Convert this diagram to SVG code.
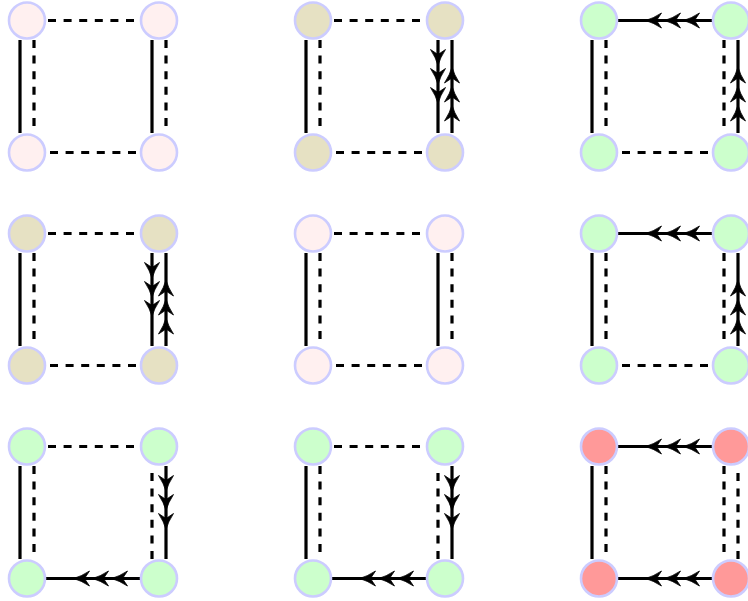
<svg xmlns="http://www.w3.org/2000/svg" xmlns:xlink="http://www.w3.org/1999/xlink" width="748" height="601" viewBox="0 0 748 601">
<style>
.s{stroke:#000;stroke-width:3.2;fill:none}
.d{stroke:#000;stroke-width:3.2;fill:none;stroke-dasharray:8 7.6}
.n{stroke:#ccccff;stroke-width:2.6}
.pk{fill:#fff0f0}
.kh{fill:#e6e1c3}
.gr{fill:#ccffcc}
.rd{fill:#ff9999}
</style>
<defs>
<path id="chev" d="M1.5 0 Q-6 -2 -14.5 -7.5 L-9.5 0 L-14.5 7.5 Q-6 2 1.5 0Z" fill="#000" stroke="#000" stroke-width="0.8" stroke-linejoin="miter"/>
<g id="a3">
<use xlink:href="#chev" href="#chev" transform="translate(18,0)"/>
<use xlink:href="#chev" href="#chev" transform="translate(-1,0)"/>
<use xlink:href="#chev" href="#chev" transform="translate(-20,0)"/>
</g>
</defs>
<rect width="748" height="601" fill="#fff"/>
<g id="connectors">
<!-- panel 1 -->
<path class="d" d="M48 20.5H140"/><path class="d" d="M50 152.5H140"/>
<path class="s" d="M20 40V133"/><path class="d" d="M34 40V133"/>
<path class="s" d="M152 40V133"/><path class="d" d="M166 40V133"/>
<!-- panel 2 -->
<path class="d" d="M334 20.5H426"/><path class="d" d="M336 152.5H426"/>
<path class="s" d="M306 40V133"/><path class="d" d="M320 40V133"/>
<path class="s" d="M438 40V133"/><use href="#a3" xlink:href="#a3" transform="translate(438,84) rotate(90)"/>
<path class="s" d="M452 40V133"/><use href="#a3" xlink:href="#a3" transform="translate(452,86.5) rotate(-90)"/>
<!-- panel 3 -->
<path class="s" d="M618 20.5H712"/><use href="#a3" xlink:href="#a3" transform="translate(665,20.5) rotate(180)"/>
<path class="d" d="M622 152.5H712"/>
<path class="s" d="M592 40V133"/><path class="d" d="M606 40V133"/>
<path class="d" d="M724 40V133"/>
<path class="s" d="M738 40V133"/><use href="#a3" xlink:href="#a3" transform="translate(738,86.5) rotate(-90)"/>
<!-- panel 4 -->
<path class="d" d="M48 233.5H140"/><path class="d" d="M50 365.5H140"/>
<path class="s" d="M20 253V346"/><path class="d" d="M34 253V346"/>
<path class="s" d="M152 253V346"/><use href="#a3" xlink:href="#a3" transform="translate(152,297) rotate(90)"/>
<path class="s" d="M166 253V346"/><use href="#a3" xlink:href="#a3" transform="translate(166,299.5) rotate(-90)"/>
<!-- panel 5 -->
<path class="d" d="M334 233.5H426"/><path class="d" d="M336 365.5H426"/>
<path class="s" d="M306 253V346"/><path class="d" d="M320 253V346"/>
<path class="s" d="M438 253V346"/><path class="d" d="M452 253V346"/>
<!-- panel 6 -->
<path class="s" d="M618 233.5H712"/><use href="#a3" xlink:href="#a3" transform="translate(665,233.5) rotate(180)"/>
<path class="d" d="M622 365.5H712"/>
<path class="s" d="M592 253V346"/><path class="d" d="M606 253V346"/>
<path class="d" d="M724 253V346"/>
<path class="s" d="M738 253V346"/><use href="#a3" xlink:href="#a3" transform="translate(738,299.5) rotate(-90)"/>
<!-- panel 7 -->
<path class="d" d="M48 446.5H140"/>
<path class="s" d="M46 578.5H140"/><use href="#a3" xlink:href="#a3" transform="translate(93,578.5) rotate(180)"/>
<path class="s" d="M20 466V559"/><path class="d" d="M34 466V559"/>
<path class="d" d="M152 559V466"/>
<path class="s" d="M166 466V559"/><use href="#a3" xlink:href="#a3" transform="translate(166,510) rotate(90)"/>
<!-- panel 8 -->
<path class="d" d="M334 446.5H426"/>
<path class="s" d="M332 578.5H426"/><use href="#a3" xlink:href="#a3" transform="translate(379,578.5) rotate(180)"/>
<path class="s" d="M306 466V559"/><path class="d" d="M320 466V559"/>
<path class="d" d="M438 559V466"/>
<path class="s" d="M452 466V559"/><use href="#a3" xlink:href="#a3" transform="translate(452,510) rotate(90)"/>
<!-- panel 9 -->
<path class="s" d="M618 446.5H712"/><use href="#a3" xlink:href="#a3" transform="translate(665,446.5) rotate(180)"/>
<path class="s" d="M618 578.5H712"/><use href="#a3" xlink:href="#a3" transform="translate(665,578.5) rotate(180)"/>
<path class="s" d="M592 466V559"/><path class="d" d="M606 466V559"/>
<path class="d" d="M724 466V559"/>
<path class="d" d="M738 559V466"/>
</g>
<g id="p1a"><circle class="n pk" cx="27" cy="20.5" r="18"/></g>
<g id="p1b"><circle class="n pk" cx="159" cy="20.5" r="18"/></g>
<g id="p1c"><circle class="n pk" cx="27" cy="152.5" r="18"/></g>
<g id="p1d"><circle class="n pk" cx="159" cy="152.5" r="18"/></g>
<g id="p2a"><circle class="n kh" cx="313" cy="20.5" r="18"/></g>
<g id="p2b"><circle class="n kh" cx="445" cy="20.5" r="18"/></g>
<g id="p2c"><circle class="n kh" cx="313" cy="152.5" r="18"/></g>
<g id="p2d"><circle class="n kh" cx="445" cy="152.5" r="18"/></g>
<g id="p3a"><circle class="n gr" cx="599" cy="20.5" r="18"/></g>
<g id="p3b"><circle class="n gr" cx="731" cy="20.5" r="18"/></g>
<g id="p3c"><circle class="n gr" cx="599" cy="152.5" r="18"/></g>
<g id="p3d"><circle class="n gr" cx="731" cy="152.5" r="18"/></g>
<g id="p4a"><circle class="n kh" cx="27" cy="233.5" r="18"/></g>
<g id="p4b"><circle class="n kh" cx="159" cy="233.5" r="18"/></g>
<g id="p4c"><circle class="n kh" cx="27" cy="365.5" r="18"/></g>
<g id="p4d"><circle class="n kh" cx="159" cy="365.5" r="18"/></g>
<g id="p5a"><circle class="n pk" cx="313" cy="233.5" r="18"/></g>
<g id="p5b"><circle class="n pk" cx="445" cy="233.5" r="18"/></g>
<g id="p5c"><circle class="n pk" cx="313" cy="365.5" r="18"/></g>
<g id="p5d"><circle class="n pk" cx="445" cy="365.5" r="18"/></g>
<g id="p6a"><circle class="n gr" cx="599" cy="233.5" r="18"/></g>
<g id="p6b"><circle class="n gr" cx="731" cy="233.5" r="18"/></g>
<g id="p6c"><circle class="n gr" cx="599" cy="365.5" r="18"/></g>
<g id="p6d"><circle class="n gr" cx="731" cy="365.5" r="18"/></g>
<g id="p7a"><circle class="n gr" cx="27" cy="446.5" r="18"/></g>
<g id="p7b"><circle class="n gr" cx="159" cy="446.5" r="18"/></g>
<g id="p7c"><circle class="n gr" cx="27" cy="578.5" r="18"/></g>
<g id="p7d"><circle class="n gr" cx="159" cy="578.5" r="18"/></g>
<g id="p8a"><circle class="n gr" cx="313" cy="446.5" r="18"/></g>
<g id="p8b"><circle class="n gr" cx="445" cy="446.5" r="18"/></g>
<g id="p8c"><circle class="n gr" cx="313" cy="578.5" r="18"/></g>
<g id="p8d"><circle class="n gr" cx="445" cy="578.5" r="18"/></g>
<g id="p9a"><circle class="n rd" cx="599" cy="446.5" r="18"/></g>
<g id="p9b"><circle class="n rd" cx="731" cy="446.5" r="18"/></g>
<g id="p9c"><circle class="n rd" cx="599" cy="578.5" r="18"/></g>
<g id="p9d"><circle class="n rd" cx="731" cy="578.5" r="18"/></g>
</svg>
